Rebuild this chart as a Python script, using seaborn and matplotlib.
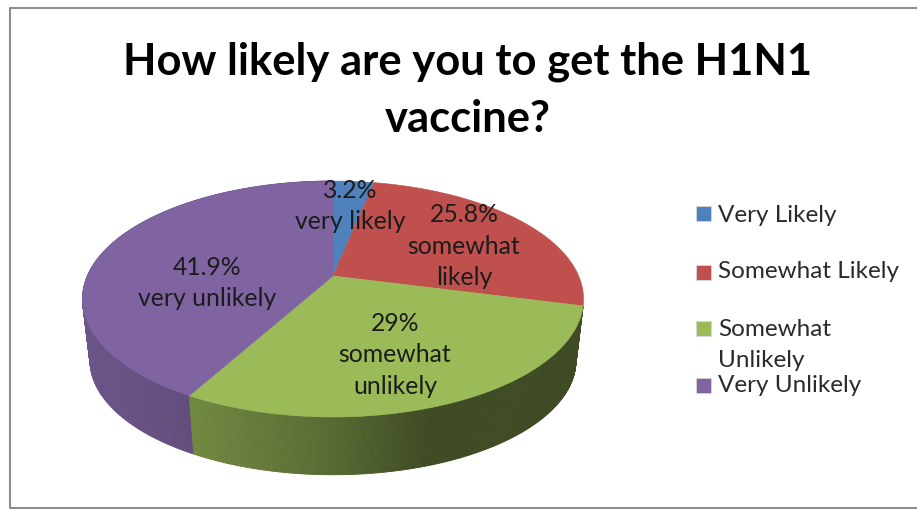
import numpy as np
import matplotlib
matplotlib.use("Agg")
import matplotlib.pyplot as plt
from matplotlib.patches import Polygon, Rectangle
import seaborn as sns

# Survey results
categories = ["Very Likely", "Somewhat Likely", "Somewhat\nUnlikely", "Very Unlikely"]
slice_names = ["very likely", "somewhat\nlikely", "somewhat\nunlikely", "very unlikely"]
shares = [3.2, 25.8, 29, 41.9]
title = "How likely are you to get the H1N1\nvaccine?"

sns.set_theme(style="white")
plt.rcParams["font.family"] = ["Lato", "DejaVu Sans"]
palette = sns.color_palette(["#4F81BD", "#C0504D", "#9BBB59", "#8064A2"])

W, H = 917, 509
fig = plt.figure(figsize=(W / 100, H / 100), dpi=100, facecolor="white")
ax = fig.add_axes([0, 0, 1, 1])
ax.set_xlim(0, W)
ax.set_ylim(H, 0)
ax.axis("off")

# Perspective projection of the disc onto the page
CX, CY = 333.0, 276.0
TILT, RX, RY = 0.195, 245.7, 113.5
BOTTOM_SCALE, DEPTH = 0.97, 62.0


def rim(theta):
    """Top-rim point for an angle measured clockwise from twelve o'clock."""
    c, s = np.sin(theta), np.cos(theta)
    w = 1 + TILT * s
    return CX + RX * c / w, CY - RY * s / w


def lower(x, y):
    return CX + BOTTOM_SCALE * (x - CX), CY + BOTTOM_SCALE * (y - CY) + DEPTH


edges = np.cumsum([0] + shares) / sum(shares) * 2 * np.pi

# Side wall shading, darker towards the right-hand side
wall_x = [80, 190, 320, 430, 590]
wall_level = {2: [0.73, 0.73, 0.58, 0.40, 0.40], 3: [0.84, 0.77, 0.6, 0.4, 0.4]}
for i in (3, 2):
    ts = np.linspace(edges[i], edges[i + 1], 260)
    for a, b in zip(ts[:-1], ts[1:]):
        xa, ya = rim(a)
        xb, yb = rim(b)
        xa2, ya2 = lower(xa, ya)
        xb2, yb2 = lower(xb, yb)
        level = np.interp((xa + xb) / 2, wall_x, wall_level[i])
        shade = tuple(np.array(palette[i]) * level)
        ax.add_patch(Polygon([(xa, ya), (xb, yb), (xb2, yb2), (xa2, ya2)],
                             closed=True, facecolor=shade, edgecolor=shade, lw=0.6))

# Top face of each slice
for i, color in enumerate(palette):
    ts = np.linspace(edges[i], edges[i + 1], 200)
    xs, ys = rim(ts)
    ax.add_patch(Polygon(np.column_stack([np.r_[CX, xs], np.r_[CY, ys]]),
                         closed=True, facecolor=color, edgecolor=color, lw=0.4))

# Slice captions
label_pos = [(350, 206), (464, 246), (395, 355), (207, 283)]
for v, name, (x, y) in zip(shares, slice_names, label_pos):
    ax.text(x, y, f"{v:g}%\n{name}", ha="center", va="center", fontsize=17.8,
            color="#1c1c1c", linespacing=1.47)

# Legend
legend_y = [213, 272, 328, 385]
legend_text_y = [215, 272, 345, 386]
for name, color, y, ty in zip(categories, palette, legend_y, legend_text_y):
    ax.add_patch(Rectangle((696, y - 7.5), 15, 15, facecolor=color, edgecolor="#d8d8d8", lw=0.6))
    ax.text(718, ty, name, ha="left", va="center", fontsize=17.5, color="#2b2b2b", linespacing=1.62)

ax.text(468, 90, title, ha="center", va="center", fontsize=31.3, fontweight="bold",
        color="black", linespacing=1.5)

# Chart frame, open on the right
ax.plot([W + 5, 9.5, 9.5, W + 5], [8, 8, 508, 508], color="#8e8e8e", lw=1.5, clip_on=False)

fig.savefig("out.png", dpi=100, facecolor="white")
